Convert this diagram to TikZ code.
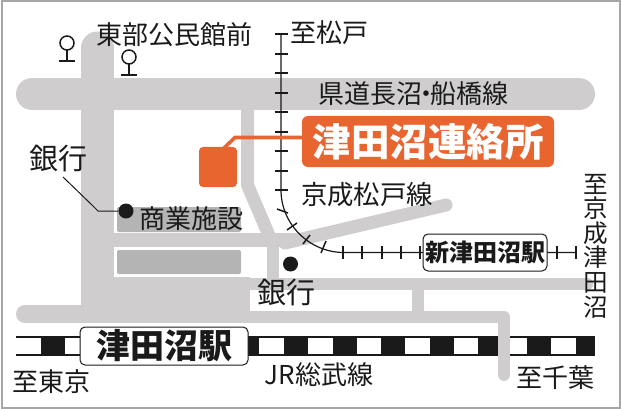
\documentclass[tikz,border=0pt]{standalone}
\usepackage{fontspec}
\setmainfont{Noto Sans CJK JP}
\definecolor{roadgray}{HTML}{CFCDCE}
\definecolor{blockgray}{HTML}{B4B4B4}
\definecolor{officeorange}{HTML}{E9652F}
\definecolor{railblack}{HTML}{1A1A1A}
\tikzset{
  road/.style={draw=roadgray,line cap=round,line join=round},
  blockbox/.style={fill=blockgray,rounded corners=2pt},
  maptext/.style={inner sep=0pt,text=railblack,font=\fontsize{26}{26}\selectfont},
  banktext/.style={maptext,font=\fontsize{29}{29}\selectfont},
  stationbox/.style={draw=railblack,fill=white,line width=1pt,rounded corners=5pt,inner sep=0pt,text=railblack},
  bankdot/.style={circle,fill=railblack,inner sep=0pt,minimum size=15pt},
  railtick/.style={draw=railblack,line width=1.5pt},
  railline/.style={draw=railblack,line width=1.2pt}
}
\begin{document}
\begin{tikzpicture}[x=1pt,y=-1pt]
\useasboundingbox (0,0) rectangle (621,409);
\draw[color=black!35,line width=2pt] (1.5,1.5) rectangle (619.5,407.5);

% JR line
\fill[white] (16,337) rectangle (595,355);
\foreach \i in {0,...,11}
  \fill[railblack] ({41+48.6*\i},337) rectangle ({min(41+48.6*\i+24,595)},355);
\draw[railline] (16,337) -- (595,337);
\draw[railline] (16,355) -- (595,355);

% roads
\fill[roadgray] (81,277) rectangle (250,323);
\draw[road,line width=18pt] (25,314) -- (100,314);
\draw[road,line width=32pt] (32,94) -- (579,94);
\draw[road,line width=33pt] (97.5,48) -- (97.5,300);
\draw[road,line width=12.5pt] (100,284) -- (587,284);
\draw[road,line width=12pt] (100,317) -- (504,317) -- (504,375);
\draw[road,line width=14pt] (100,240) -- (295,240);
\draw[road,line width=12pt] (273,240) -- (273,284);
\draw[road,line width=12pt] (418,284) -- (418,317);
\draw[road,line width=13pt] (247.5,94) -- (247.5,185) -- (271,240);
\draw[road,line width=13pt] (285,243) -- (446,205);

% buildings
\path[blockbox] (117,207) rectangle (241,232);
\path[blockbox] (117,250) rectangle (241,274);

% Keisei line
\draw[railline] (281,34) -- (281,190) .. controls (281,224) and (309,252) .. (343,252.5) -- (576,252.5);
\foreach \py in {34,54,73,93,112,132,151,171,190}
  \draw[railtick] (274.5,\py) -- (288,\py);
\foreach \xa/\ya/\xb/\yb in {277/209/288/213, 287/230/297/223, 303/244/310/235, 321/253/326/241}
  \draw[railtick] (\xa,\ya) -- (\xb,\yb);
\foreach \px in {343,362,382,401,420,557,576}
  \draw[railtick] (\px,246) -- (\px,259);

% trees
\foreach \px/\py in {67/43,129/57} {
  \draw[railtick] (\px,\py) circle (7);
  \draw[railtick] (\px,\py+7) -- (\px,\py+18);
  \draw[railtick] (\px-8,\py+18) -- (\px+8,\py+18);
}

% office
\node[fill=officeorange,rounded corners=4pt,minimum width=38pt,minimum height=40pt,inner sep=0pt] (shop) at (218,167) {};
\node[fill=officeorange,rounded corners=6pt,minimum width=252pt,minimum height=51pt,inner sep=0pt,text=white,font=\fontsize{38.5}{38.5}\selectfont\bfseries] (office) at (428,141.5) {津田沼連絡所};
\coordinate (shopcorner) at (224,148);
\coordinate (officebend) at (235,137.5);
\draw[officeorange,line width=3.6pt] (shopcorner) -- (officebend) -- (office.west |- officebend);

% banks
\node[bankdot] (bankleft) at (126,211) {};
\node[bankdot] (bankright) at (290.5,264) {};
\node[banktext] (banktextleft) at (58,159) {銀行};
\node[banktext] (banktextright) at (286,293) {銀行};
\coordinate (banktip) at (63,177);
\coordinate (bankbend) at (92,205);
\coordinate (bankfoot) at (98,211);
\draw[railblack,line width=1pt] (banktip) -- (bankbend) -- (bankfoot) -- (bankleft);

% labels
\node[maptext] (hall) at (174,35) {東部公民館前};
\node[maptext] (tomatsudo) at (329,33) {至松戸};
\node[maptext] (prefroad) at (413,94) {県道長沼\kern-9pt・\kern-9pt船橋線};
\node[maptext,font=\fontsize{26.4}{26.4}\selectfont] (keiseiline) at (367,195) {京成松戸線};
\node[maptext] (shops) at (191,219) {商業施設};
\node[maptext] (totokyo) at (51.5,382) {至東京};
\node[maptext] (jrline) at (319,375) {JR総武線};
\node[maptext] (tochiba) at (555,378) {至千葉};
\node[maptext,align=center,font=\fontsize{24.6}{24.6}\selectfont] (tokeisei) at (595.5,246) {至\\京\\成\\津\\田\\沼};

% stations
\node[stationbox,minimum width=168pt,minimum height=38pt,font=\fontsize{34}{34}\selectfont\bfseries] (tsudanuma) at (164,346) {津田沼駅};
\node[stationbox,minimum width=124pt,minimum height=37pt,font=\fontsize{24}{24}\selectfont\bfseries] (shintsudanuma) at (485,252.5) {新津田沼駅};
\end{tikzpicture}
\end{document}
